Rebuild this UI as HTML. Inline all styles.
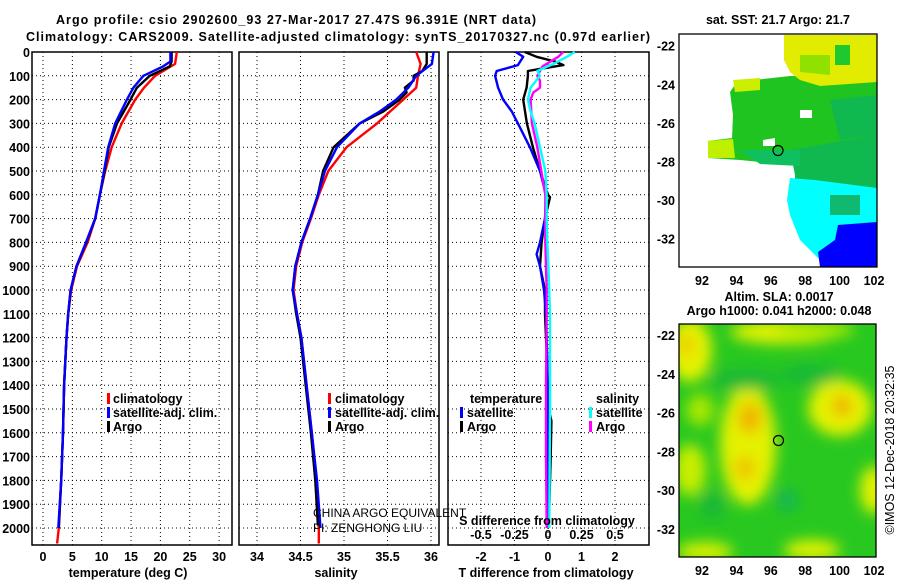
<!DOCTYPE html>
<html><head><meta charset="utf-8"><style>
html,body{margin:0;padding:0;background:#fff;}
svg{display:block;font-family:"Liberation Sans",sans-serif;}
.b{font-weight:bold;font-size:12.5px;fill:#000;}
</style></head><body>
<svg id="chart" width="900" height="580" viewBox="0 0 900 580" xmlns="http://www.w3.org/2000/svg">
<defs>
<filter id="blur" x="-20%" y="-20%" width="140%" height="140%"><feGaussianBlur stdDeviation="7"/></filter>
<clipPath id="m2clip"><rect x="679" y="324" width="197" height="233"/></clipPath>
<clipPath id="m1clip"><rect x="679" y="34" width="198" height="233"/></clipPath>
</defs>
<text class="b" x="296" y="24" text-anchor="middle" font-size="13.5" textLength="480">Argo profile: csio 2902600_93 27-Mar-2017 27.47S 96.391E (NRT data)</text>
<text class="b" x="338" y="41" text-anchor="middle" font-size="13.5" textLength="624">Climatology: CARS2009. Satellite-adjusted climatology: synTS_20170327.nc (0.97d earlier)</text>
<g id="panels"></g>
<g id="maps"></g>
</svg>
<script>
// ---------- data ----------
const depthTicks=[0,100,200,300,400,500,600,700,800,900,1000,1100,1200,1300,1400,1500,1600,1700,1800,1900,2000];
const tempTicks=[0,5,10,15,20,25,30];
const salTicks=[34,34.5,35,35.5,36];
const salTickLabels=["34","34.5","35","35.5","36"];
const tdiffTicks=[-2,-1,0,1,2];
const sdiffTicks=[-0.5,-0.25,0,0.25,0.5];
const sdiffTickLabels=["-0.5","-0.25","0","0.25","0.5"];

const tClimDepth=[0,50,100,150,200,300,400,500,600,700,800,900,1000,1100,1200,1400,1600,1800,2000,2065];
const tClim=[22.8,22.5,19.1,17.2,15.7,13.4,11.7,10.6,9.7,8.9,7.6,5.8,4.8,4.3,4.0,3.6,3.4,3.1,2.7,2.4];
const tSatDepth=[0,40,60,100,150,200,300,400,500,600,700,800,900,1000,1100,1200,1400,1600,1800,2000];
const tSat=[21.7,21.7,20.5,17.1,15.4,14.3,12.3,11.1,10.4,9.7,8.9,7.3,5.7,4.7,4.3,4.0,3.6,3.4,3.1,2.6];
const tArgoDepth=[0,40,60,100,150,200,300,400,500,600,700,800,900,1000,1100,1200,1400,1600,1800,2000];
const tArgo=[21.9,21.9,21.6,18.2,16.0,14.9,12.6,11.2,10.5,9.7,8.9,7.4,5.7,4.7,4.3,4.0,3.6,3.4,3.1,2.7];

const sClimDepth=[0,50,100,150,200,250,300,400,500,600,700,800,900,1000,1100,1200,1400,1600,1800,2000,2065];
const sClim=[35.83,35.88,35.85,35.83,35.68,35.53,35.38,35.03,34.82,34.71,34.62,34.52,34.45,34.42,34.46,34.51,34.57,34.63,34.68,34.71,34.71];
const sSatDepth=[0,50,100,150,200,250,300,400,500,600,700,800,900,1000,1100,1200,1400,1600,1800,2000];
const sSat=[36.03,36.01,35.83,35.74,35.6,35.41,35.18,34.92,34.78,34.7,34.61,34.51,34.44,34.41,34.46,34.51,34.57,34.63,34.69,34.73];
const sArgoDepth=[0,50,80,100,120,150,170,200,250,300,400,500,600,700,800,900,1000,1100,1200,1400,1600,1800,1990];
const sArgo=[35.95,35.95,35.9,35.8,35.8,35.7,35.72,35.64,35.45,35.18,34.88,34.76,34.7,34.61,34.51,34.44,34.41,34.45,34.5,34.56,34.62,34.67,34.7];

const dTSatDepth=[0,20,55,80,100,150,200,250,300,400,500,600,700,800,850,900,1000,1100,1300,1600,2000];
const dTSat=[-0.96,-0.74,-0.9,-1.53,-1.58,-1.49,-1.34,-1.08,-0.9,-0.54,-0.24,-0.06,-0.09,-0.24,-0.34,-0.24,-0.12,-0.06,-0.02,0,0];
const dTArgoDepth=[0,20,40,55,70,80,100,150,200,300,400,500,600,610,700,800,900,1000,1100,1300,1500,1550,1700,2000];
const dTArgo=[-0.69,-0.34,0.21,0.46,-0.2,-0.6,-0.6,-0.64,-0.74,-0.63,-0.45,-0.24,0,0.06,-0.09,-0.19,-0.24,-0.09,-0.09,-0.03,0.02,0.1,0.08,0.02];
const dSSatDepth=[0,20,50,80,100,150,200,250,300,400,500,600,700,800,900,1100,1500,2000];
const dSSat=[0.2,0.14,0.04,-0.08,-0.06,-0.13,-0.15,-0.13,-0.1,-0.06,-0.02,-0.01,-0.01,-0.005,0.003,0.015,0.015,0.01];
const dSArgoDepth=[0,20,60,100,120,150,170,200,300,400,500,600,700,800,1000,1100,1400,1700,2000];
const dSArgo=[0.114,0.077,-0.04,-0.08,-0.06,-0.06,-0.11,-0.13,-0.12,-0.08,-0.05,-0.02,-0.02,-0.02,-0.01,-0.01,-0.015,-0.015,-0.01];

// ---------- scales ----------
const TOP=52, BOT=545;
const yD=d=>TOP+d*0.238;
const xT=t=>43+t*5.87;
const xS=s=>257+(s-34)*87;
const xDT=t=>548+t*33.5;
const xDS=s=>548+s*134;

const NS="http://www.w3.org/2000/svg";
function mk(tag,attrs,parent){const e=document.createElementNS(NS,tag);for(const k in attrs)e.setAttribute(k,attrs[k]);parent.appendChild(e);return e;}
const P=document.getElementById('panels');

function panel(name,x0,x1,ticks,xf){
  const g=mk('g',{},P);
  
  
  depthTicks.forEach(d=>{ if(d>0){const l=mk('line',{x1:x0,x2:x1,y1:yD(d),y2:yD(d),stroke:'#000','stroke-width':1,'stroke-dasharray':'1,3'},g);
    
    }});
  ticks.forEach(t=>{const l=mk('line',{x1:xf(t),x2:xf(t),y1:TOP,y2:BOT,stroke:'#000','stroke-width':1,'stroke-dasharray':'1,3'},g);
    
    });
  const r=mk('rect',{x:x0,y:TOP,width:x1-x0,height:BOT-TOP,fill:'none',stroke:'#000','stroke-width':1.5},g);
  
  
  return g;
}
function line(g,name,dep,vals,xf,color,w){
  const pts=dep.map((d,i)=>xf(vals[i]).toFixed(1)+','+yD(d).toFixed(1)).join(' ');
  const p=mk('polyline',{points:pts,fill:'none',stroke:color,'stroke-width':w||2.4,'stroke-linejoin':'round'},g);
  
  
}
function txt(g,name,x,y,s,anchor,extra){
  const t=mk('text',Object.assign({x:x,y:y,class:'b','text-anchor':anchor||'start'},extra||{}),g);
  t.textContent=s;
  
  
  return t;
}
function legendBar(g,name,x,y,color){
  const r=mk('rect',{x:x,y:y-9,width:3,height:11,fill:color},g);
  
  
}

// y axis labels
const ya=mk('g',{},P);


depthTicks.forEach(d=>txt(ya,'y-tick-label',30,yD(d)+5,String(d),'end'));

// Panel 1
const g1=panel('temperature-panel',32,232,tempTicks,xT);
line(g1,'temp-climatology',tClimDepth,tClim,xT,'#ff0000');
line(g1,'temp-argo',tArgoDepth,tArgo,xT,'#000000');
line(g1,'temp-satellite-adj',tSatDepth,tSat,xT,'#0000ff');
tempTicks.forEach(t=>txt(g1,'x-tick-label',xT(t),561,String(t),'middle'));
txt(g1,'x-axis-title',128,577,'temperature (deg C)','middle');
legendBar(g1,'legend-swatch-climatology',107,402,'#ff0000');txt(g1,'legend-climatology',113,403,'climatology');
legendBar(g1,'legend-swatch-satellite',107,416,'#0000ff');txt(g1,'legend-satellite-adj',113,417,'satellite-adj. clim.');
legendBar(g1,'legend-swatch-argo',107,430,'#000000');txt(g1,'legend-argo',113,431,'Argo');

// Panel 2
const g2=panel('salinity-panel',239,439,salTicks,xS);
line(g2,'sal-climatology',sClimDepth,sClim,xS,'#ff0000');
line(g2,'sal-argo',sArgoDepth,sArgo,xS,'#000000');
line(g2,'sal-satellite-adj',sSatDepth,sSat,xS,'#0000ff');
salTicks.forEach((t,i)=>txt(g2,'x-tick-label',xS(t),561,salTickLabels[i],'middle'));
txt(g2,'x-axis-title',336,577,'salinity','middle');
legendBar(g2,'legend-swatch-climatology',328,402,'#ff0000');txt(g2,'legend-climatology',335,403,'climatology');
legendBar(g2,'legend-swatch-satellite',328,416,'#0000ff');txt(g2,'legend-satellite-adj',335,417,'satellite-adj. clim.');
legendBar(g2,'legend-swatch-argo',328,430,'#000000');txt(g2,'legend-argo',335,431,'Argo');
const pi1=txt(g2,'pi-note-1',313,517,'CHINA ARGO EQUIVALENT');pi1.setAttribute('style','font-weight:normal;font-size:12px');
const pi2=txt(g2,'pi-note-2',313,532,'PI: ZENGHONG LIU');pi2.setAttribute('style','font-weight:normal;font-size:12px');

// Panel 3
const g3=panel('difference-panel',448,649,tdiffTicks,xDT);
line(g3,'tdiff-argo',dTArgoDepth,dTArgo,xDT,'#000000');
line(g3,'tdiff-satellite',dTSatDepth,dTSat,xDT,'#0000ff');
line(g3,'sdiff-argo',dSArgoDepth,dSArgo,xDS,'#ff00ff');
line(g3,'sdiff-satellite',dSSatDepth,dSSat,xDS,'#00ffff');
tdiffTicks.forEach(t=>txt(g3,'x-tick-label',xDT(t),561,String(t),'middle'));
sdiffTicks.forEach((t,i)=>txt(g3,'s-tick-label',xDS(t),539,sdiffTickLabels[i],'middle'));
txt(g3,'s-axis-title',547,525,'S difference from climatology','middle');
txt(g3,'x-axis-title',546,577,'T difference from climatology','middle');
txt(g3,'legend-temperature-head',470,403,'temperature');
txt(g3,'legend-salinity-head',596,403,'salinity');
legendBar(g3,'legend-swatch-tsat',460,416,'#0000ff');txt(g3,'legend-t-satellite',467,417,'satellite');
legendBar(g3,'legend-swatch-targo',460,430,'#000000');txt(g3,'legend-t-argo',467,431,'Argo');
legendBar(g3,'legend-swatch-ssat',589,416,'#00ffff');txt(g3,'legend-s-satellite',596,417,'satellite');
legendBar(g3,'legend-swatch-sargo',589,430,'#ff00ff');txt(g3,'legend-s-argo',596,431,'Argo');

// ---------- maps ----------
const M=document.getElementById('maps');
const lonTicks=[92,94,96,98,100,102];
const latTicks=[-22,-24,-26,-28,-30,-32];
const xLon=l=>702+(l-92)*17.2;
const yLat1=l=>45.7+(-22-l)*19.3;
const yLat2=l=>335+(-22-l)*19.4;

// map1 SST
const m1=mk('g',{},M);


txt(m1,'sst-map-title',778,24,'sat. SST: 21.7 Argo: 21.7','middle');
const m1c=mk('g',{'clip-path':'url(#m1clip)'},m1);
const regions1=[
 ['#20c420','737,82 790,76 877,74 877,165 800,168 790,162 760,162 740,160 708,158 708,141 732,138 733,115 730,92'],
 ['#bff000','708,141 733,139 735,158 708,158'],
 ['#ccee00','733,80 760,78 760,90 735,92'],
 ['#e2ec00','784,35 877,35 877,82 820,86 800,80 790,72 784,60'],
 ['#90e000','800,55 830,55 830,75 800,72'],
 ['#20c830','835,45 850,45 850,65 835,65'],
 ['#10b850','790,150 877,135 877,200 795,202 795,175'],
 ['#10b850','830,100 877,95 877,135 840,140'],
 ['#10c060','740,150 800,150 800,166 760,164'],
 ['#00ffff','790,178 815,180 877,188 877,232 840,252 822,262 800,240 790,215 787,200'],
 ['#10b870','830,195 860,195 860,215 830,215'],
 ['#0000ff','838,225 877,222 877,267 820,267 818,252 835,240'],
 ['#ffffff','763,140 775,138 775,146 763,146'],
 ['#ffffff','800,110 812,110 812,118 800,118']
];
regions1.forEach(r=>{const p=mk('polygon',{points:r[1],fill:r[0]},m1c);
  
  });
const c1=mk('circle',{cx:778,cy:150.5,r:5,fill:'none',stroke:'#000','stroke-width':1.2},m1);


const f1=mk('rect',{x:679,y:34,width:198,height:233,fill:'none',stroke:'#000','stroke-width':1.3},m1);


lonTicks.forEach(l=>txt(m1,'lon-tick-label',xLon(l),285,String(l),'middle'));
latTicks.forEach(l=>txt(m1,'lat-tick-label',675,yLat1(l)+5,String(l),'end'));

txt(M,'sla-title',779,301,'Altim. SLA: 0.0017','middle');
txt(M,'argo-h-title',779,315,'Argo h1000: 0.041 h2000: 0.048','middle');

// map2 SLA
const m2=mk('g',{},M);


const m2c=mk('g',{'clip-path':'url(#m2clip)'},m2);
mk('rect',{x:679,y:324,width:197,height:233,fill:'#28c820'},m2c);
const blobs=mk('g',{filter:'url(#blur)'},m2c);
const sla=[
 ['#e4f200',690,350,22,32],['#e4f200',785,332,55,12],['#e4f200',748,445,28,60],['#e4f200',840,408,32,28],
 ['#c8ee00',690,470,16,26],['#e4f200',874,490,14,24],['#e4f200',812,550,28,10],['#d8f000',705,552,28,10],
 ['#f0b400',750,418,12,16],['#f0c000',745,468,10,12],['#f0b000',842,406,10,11],['#f0c800',686,345,7,12],
 ['#10b060',787,500,9,10],['#18b838',745,380,35,10],['#18b838',810,375,30,10],['#18b838',712,505,12,14],
 ['#a8e800',700,410,14,16],['#b0ea00',815,330,40,8]
];
sla.forEach(b=>{const e=mk('ellipse',{cx:b[1],cy:b[2],rx:b[3],ry:b[4],fill:b[0]},blobs);
  
  });
const c2=mk('circle',{cx:778.5,cy:440.5,r:5,fill:'none',stroke:'#000','stroke-width':1.2},m2);


const f2=mk('rect',{x:679,y:324,width:197,height:233,fill:'none',stroke:'#000','stroke-width':1.3},m2);


lonTicks.forEach(l=>txt(m2,'lon-tick-label',xLon(l),575,String(l),'middle'));
latTicks.forEach(l=>txt(m2,'lat-tick-label',675,yLat2(l)+5,String(l),'end'));
const cr=txt(M,'copyright-timestamp',0,0,'©IMOS 12-Dec-2018 20:32:35','middle',{transform:'translate(894,450) rotate(-90)'});
cr.setAttribute('style','font-weight:normal;font-size:12.5px');
</script>
</body></html>
